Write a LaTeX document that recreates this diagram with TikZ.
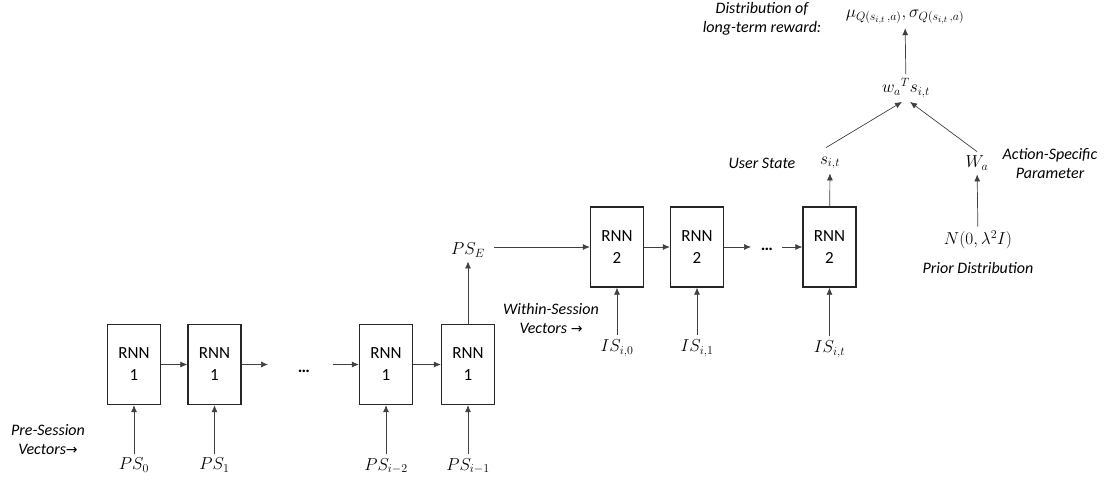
\documentclass[tikz,border=0pt]{standalone}
\usepackage{fontspec}
\setmainfont{Carlito}
\newfontfamily\arrowfont{DejaVu Sans}
\usetikzlibrary{arrows.meta}
\begin{document}
\begin{tikzpicture}[x=1pt,y=-1pt,
  rnn/.style={draw=black!85, line width=1.3pt, minimum width=53pt, minimum height=80pt,
    align=center, inner sep=0pt, font=\fontsize{17}{22}\selectfont},
  arr/.style={-{Latex[length=7pt,width=6pt]}, line width=0.7pt, draw=black!75},
  ml/.style={inner sep=4pt, font=\fontsize{18}{20}\selectfont},
  it/.style={inner sep=0pt, align=center, font=\fontsize{16}{19}\selectfont\itshape},
  dotsnode/.style={inner sep=0pt, font=\fontsize{17}{19}\selectfont\bfseries}]
\useasboundingbox (0,0) rectangle (1107,482);

% RNN 1 row
\node[rnn] (a1) at (134,364.5) {RNN\\1};
\node[rnn] (a2) at (214.5,364.5) {RNN\\1};
\node[rnn] (a3) at (386,364.5) {RNN\\1};
\node[rnn] (a4) at (468,364.5) {RNN\\1};
\coordinate (a2out) at (268,364.5);
\node[dotsnode] (d1) at (304,371) {…};
\coordinate (a3in) at (333,364.5);

% RNN 2 row
\node[rnn] (c1) at (617,247) {RNN\\2};
\node[rnn] (c2) at (697,247) {RNN\\2};
\node[rnn] (c3) at (829.5,247) {RNN\\2};
\coordinate (c2out) at (751,247);
\node[dotsnode] (d2) at (767,249) {…};
\coordinate (c3in) at (782,247);

% math labels
\node[ml] (p0) at (134,465) {$PS_0$};
\node[ml] (p1) at (214.5,465) {$PS_1$};
\node[ml] (p2) at (386,466) {$PS_{i-2}$};
\node[ml] (p3) at (468,466) {$PS_{i-1}$};
\node[ml] (pe) at (468,250) {$PS_E$};
\node[ml] (i0) at (617,348) {$IS_{i,0}$};
\node[ml] (i1) at (697,348) {$IS_{i,1}$};
\node[ml] (it) at (829.5,349) {$IS_{i,t}$};
\node[ml] (s) at (830,163) {$s_{i,t}$};
\node[ml] (wa) at (977,163) {$W_a$};
\node[ml] (nd) at (978,240) {$N(0,\lambda^2 I)$};
\node[ml] (w) at (906,88) {${w_a}^T s_{i,t}$};
\node[ml] (mu) at (905,17) {$\mu_{Q(s_{i,t}\,,a)},\sigma_{Q(s_{i,t}\,,a)}$};

% italic texts
\node[it] (t1) at (762,19) {Distribution of\\long-term reward:};
\node[it] (t2) at (762,163) {User State};
\node[it] (t3) at (1050,164) {Action-Specific\\Parameter};
\node[it] (t4) at (978,268) {Prior Distribution};
\node[it] (t5) at (551,318) {Within-Session\\Vectors {\upshape\arrowfont\fontsize{14}{19}\selectfont →}};
\node[it] (t6) at (48,440) {Pre-Session\\Vectors{\upshape\arrowfont\fontsize{14}{19}\selectfont →}};

% connectors row 1
\draw[arr] (a1) -- (a2);
\draw[arr] (a2) -- (a2out);
\draw[arr] (a3in) -- (a3);
\draw[arr] (a3) -- (a4);
\draw[arr] (p0) -- (a1);
\draw[arr] (p1) -- (a2);
\draw[arr] (p2) -- (a3);
\draw[arr] (p3) -- (a4);
\draw[arr] (a4) -- (pe);
% connectors row 2
\draw[arr, shorten <=5pt] (pe.east |- c1.west) -- (c1.west);
\draw[arr] (c1) -- (c2);
\draw[arr] (c2) -- (c2out);
\draw[arr] (c3in) -- (c3);
\draw[arr] (i0) -- (c1);
\draw[arr] (i1) -- (c2);
\draw[arr] (it) -- (c3);
% top
\draw[arr] (c3) -- (s);
\draw[arr] (nd) -- (wa);
\draw[arr] ([xshift=-4pt,yshift=5pt]s.north) -- ([xshift=-4pt]w.south);
\draw[arr] (wa.north) -- ([xshift=4pt]w.south);
\draw[arr] (w) -- (mu);
\end{tikzpicture}
\end{document}
